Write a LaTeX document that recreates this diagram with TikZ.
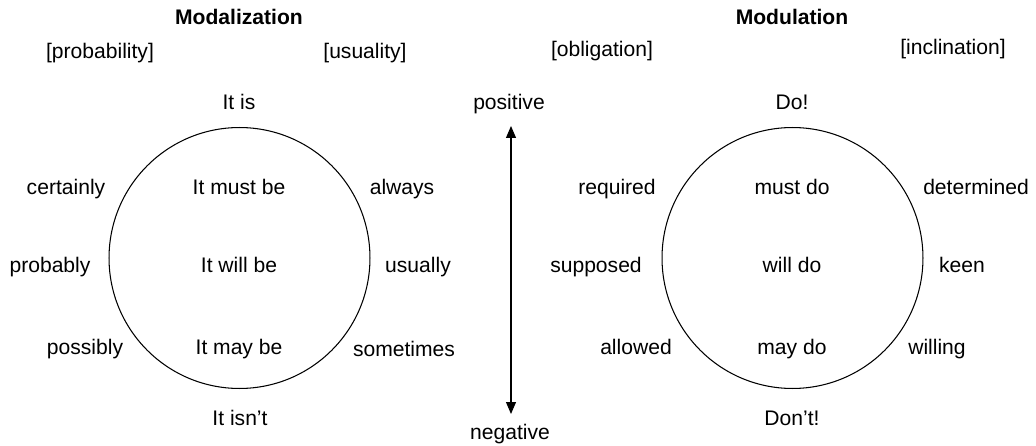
\documentclass[tikz,border=0pt]{standalone}
\usepackage{fontspec}
\setmainfont{Liberation Sans}
\usetikzlibrary{arrows.meta}

\begin{document}
\begin{tikzpicture}[
    x=0.02cm, y=-0.02cm, font=\fontsize{12}{14}\selectfont,
    lbl/.style={anchor=base, inner sep=0pt},
    ttl/.style={lbl, font=\fontsize{12}{14}\selectfont\bfseries},
    ring/.style={draw, circle, line width=0.6pt, minimum size=5.22cm, inner sep=0pt},
    arr/.style={{Triangle[length=2.4mm,width=2mm]}-{Triangle[length=2.4mm,width=2mm]}, line width=0.6pt},
]
\useasboundingbox (0,0) rectangle (1036,446);

% modalization
\node[ttl] (modal) at (239,25) {Modalization};
\node[lbl] (prob) at (100,59) {[probability]};
\node[lbl] (usual) at (365,59) {[usuality]};
\node[ring] (lcirc) at (239.5,258) {};
\node[lbl] (itis) at (239,110) {It is};
\node[lbl] (must) at (239,195) {It must be};
\node[lbl] (will) at (239,273) {It will be};
\node[lbl] (may) at (239,355) {It may be};
\node[lbl] (isnt) at (240,425) {It isn't};
\node[lbl] (cert) at (66,195) {certainly};
\node[lbl] (probly) at (50,273) {probably};
\node[lbl] (poss) at (85,355) {possibly};
\node[lbl] (alw) at (402,195) {always};
\node[lbl] (usu) at (418,273) {usually};
\node[lbl] (some) at (404,357) {sometimes};

% polarity axis
\node[lbl] (pos) at (509,110) {positive};
\node[lbl] (neg) at (510,439) {negative};
\coordinate (ptop) at (511,126);
\coordinate (pbot) at (511,414);
\draw[arr] (ptop) -- (pbot);

% modulation
\node[ttl] (modul) at (792,25) {Modulation};
\node[lbl] (oblig) at (602,57) {[obligation]};
\node[lbl] (incl) at (953,55) {[inclination]};
\node[ring] (rcirc) at (792.5,258) {};
\node[lbl] (doit) at (792,110) {Do!};
\node[lbl] (mustdo) at (792,195) {must do};
\node[lbl] (willdo) at (792,273) {will do};
\node[lbl] (maydo) at (792,355) {may do};
\node[lbl] (dont) at (792,425) {Don't!};
\node[lbl] (req) at (617,195) {required};
\node[lbl] (supp) at (596,273) {supposed};
\node[lbl] (allow) at (636,355) {allowed};
\node[lbl] (det) at (976,195) {determined};
\node[lbl] (keen) at (962,273) {keen};
\node[lbl] (willing) at (937,355) {willing};
\end{tikzpicture}
\end{document}
